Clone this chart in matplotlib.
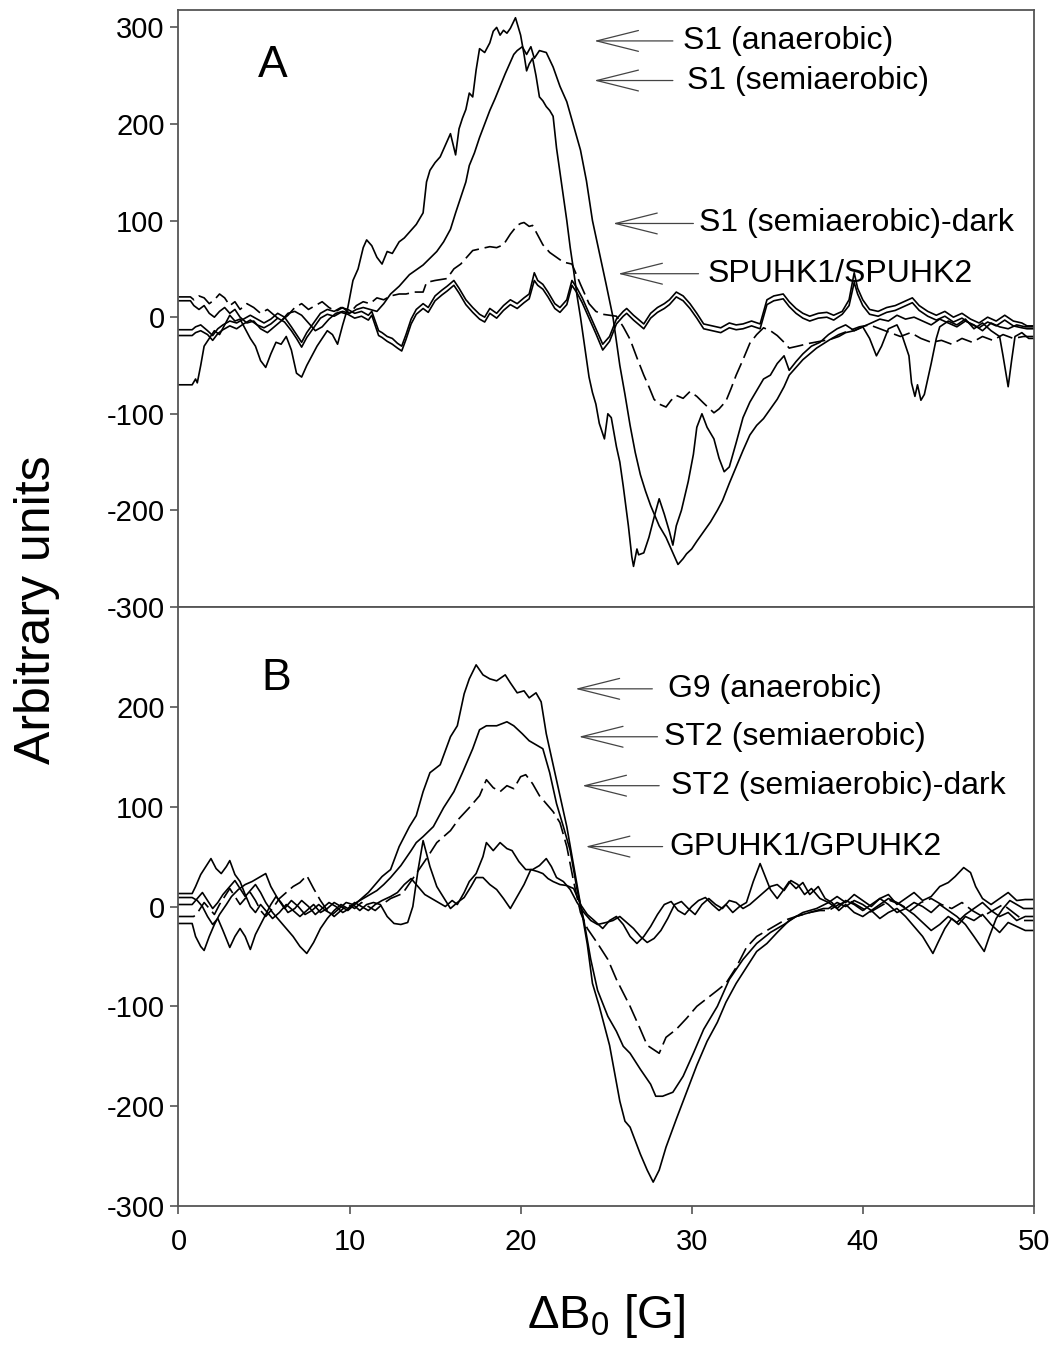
import matplotlib
matplotlib.use("Agg")
import matplotlib.pyplot as plt

plt.rcParams["font.family"] = ["Liberation Sans", "DejaVu Sans"]
plt.rcParams["mathtext.fontset"] = "custom"
plt.rcParams["mathtext.rm"] = "Liberation Sans"
plt.rcParams["mathtext.default"] = "regular"
plt.rcParams["axes.unicode_minus"] = False

# ---- panel A traces, (delta B0 [G], arbitrary units) ----
s1_anaerobic = [
    (0.0, -70), (0.8, -70), (1.0, -64), (1.1, -68), (1.3, -50), (1.5, -30), (1.8, -22), (2.1, -14),
    (2.4, -18), (2.7, -8), (3.0, 2), (3.3, -4), (3.6, -2), (3.9, -12), (4.2, -22), (4.5, -30),
    (4.8, -45), (5.1, -52), (5.4, -38), (5.7, -26), (6.0, -28), (6.3, -20), (6.6, -34), (6.9, -58),
    (7.2, -62), (7.5, -50), (7.8, -40), (8.1, -30), (8.4, -22), (8.7, -14), (9.0, -18), (9.3, -28),
    (9.6, -8), (9.9, 10), (10.2, 38), (10.5, 50), (10.8, 72), (11.0, 80), (11.3, 74), (11.6, 62),
    (11.9, 55), (12.2, 68), (12.5, 66), (12.9, 78), (13.2, 82), (13.5, 88), (13.9, 96), (14.3, 108),
    (14.5, 140), (14.7, 152), (15.0, 160), (15.3, 166), (15.6, 178), (15.9, 190), (16.2, 168),
    (16.4, 195), (16.6, 206), (16.8, 215), (17.0, 232), (17.2, 228), (17.4, 256), (17.6, 278),
    (17.9, 274), (18.2, 284), (18.4, 296), (18.6, 300), (18.8, 292), (19.0, 297), (19.2, 294),
    (19.4, 299), (19.7, 310), (20.0, 292), (20.2, 272), (20.35, 255), (20.5, 262), (20.7, 268),
    (20.9, 250), (21.1, 228), (21.3, 224), (21.5, 218), (21.7, 214), (21.9, 208), (22.1, 175),
    (22.3, 150), (22.5, 125), (22.7, 100), (22.9, 72), (23.1, 48), (23.3, 22), (23.5, 0),
    (23.7, -25), (24.0, -62), (24.2, -78), (24.4, -90), (24.6, -110), (24.9, -126), (25.1, -100),
    (25.3, -104), (25.6, -134), (25.8, -150), (26.0, -175), (26.3, -216), (26.5, -248), (26.6, -258),
    (26.8, -240), (26.9, -246), (27.2, -244), (27.5, -228), (27.85, -204), (28.1, -188), (28.4, -204),
    (28.7, -222), (28.9, -236), (29.1, -216), (29.4, -200), (29.8, -170), (30.1, -142), (30.3, -114),
    (30.6, -100), (30.9, -114), (31.3, -126), (31.6, -146), (31.9, -160), (32.2, -155), (32.6, -130),
    (33.0, -104), (33.4, -88), (33.8, -76), (34.2, -64), (34.6, -60), (35.0, -48), (35.4, -40),
    (35.7, -55), (36.1, -46), (36.5, -38), (37.0, -30), (37.5, -26), (38.0, -18), (38.5, -12),
    (39.0, -8), (39.5, -14), (40.0, -10), (40.4, -22), (40.8, -40), (41.1, -30), (41.5, -12),
    (42.0, -8), (42.3, -19), (42.7, -40), (42.85, -68), (43.05, -82), (43.2, -70), (43.4, -86),
    (43.6, -80), (43.8, -64), (44.0, -48), (44.3, -22), (44.5, -10), (45.0, -4), (45.5, -8),
    (46.0, -2), (46.5, -12), (47.0, -6), (47.5, -14), (48.0, -20), (48.2, -40), (48.5, -72),
    (48.7, -45), (48.9, -20), (49.3, -16), (49.7, -22), (50.0, -22),
]

s1_semiaerobic = [
    (0.0, 17), (0.7, 17), (0.9, 12), (1.2, 8), (1.5, 12), (1.8, 4), (2.1, 0), (2.4, 6), (2.7, 10),
    (3.0, 4), (3.3, 8), (3.6, 0), (4.0, -6), (4.4, -4), (4.8, -12), (5.2, -16), (5.6, -10), (6.0, -4),
    (6.4, 4), (6.8, 6), (7.2, 2), (7.6, -6), (8.0, -14), (8.4, -10), (8.8, -2), (9.2, 4), (9.6, 6),
    (10.0, 4), (10.4, 8), (10.8, 10), (11.2, 8), (11.6, 6), (12.0, 14), (12.4, 24), (12.9, 32),
    (13.5, 44), (14.3, 54), (15.1, 68), (15.5, 78), (15.9, 91), (16.2, 108), (16.5, 124), (16.8, 140),
    (17.0, 157), (17.3, 170), (17.6, 186), (17.9, 200), (18.2, 214), (18.5, 226), (18.8, 239),
    (19.1, 252), (19.4, 264), (19.6, 272), (19.8, 276), (20.1, 280), (20.35, 272), (20.6, 280),
    (20.8, 268), (21.1, 276), (21.5, 274), (21.9, 259), (22.3, 239), (22.7, 223), (23.1, 198),
    (23.5, 173), (23.85, 141), (24.2, 100), (24.6, 67), (25.0, 34), (25.4, 0), (25.8, -50),
    (26.1, -80), (26.4, -112), (26.7, -140), (27.0, -163), (27.3, -180), (27.6, -195), (28.1, -216),
    (28.5, -228), (28.7, -236), (29.0, -248), (29.2, -256), (29.5, -250), (29.7, -245), (30.0, -240),
    (30.3, -232), (30.7, -222), (31.1, -212), (31.5, -200), (31.8, -190), (32.2, -172), (32.6, -155),
    (33.0, -138), (33.4, -122), (33.8, -112), (34.2, -105), (34.6, -95), (35.0, -85), (35.4, -72),
    (35.7, -60), (36.1, -52), (36.5, -44), (36.9, -38), (37.3, -32), (38.1, -23), (38.6, -20),
    (39.0, -16), (39.5, -14), (40.0, -10), (40.5, -6), (41.0, -2), (41.5, -4), (42.0, 2), (42.5, -2),
    (43.0, 0), (43.5, -4), (44.0, -8), (44.5, -2), (45.0, -6), (45.5, -10), (46.0, -4), (46.5, -8),
    (47.0, -14), (47.5, -6), (48.0, -10), (48.5, -12), (49.0, -8), (49.5, -10), (50.0, -10),
]

s1_semiaerobic_dark = [
    (0.0, 21), (0.7, 21), (0.9, 18), (1.2, 22), (1.5, 20), (1.8, 14), (2.1, 18), (2.4, 24), (2.7, 20),
    (3.0, 12), (3.3, 16), (3.6, 8), (4.0, 14), (4.4, 10), (4.8, 4), (5.2, 8), (5.6, 2), (6.0, -4),
    (6.4, 2), (6.8, 10), (7.2, 14), (7.6, 8), (8.0, 12), (8.4, 16), (8.8, 10), (9.2, 6), (9.6, 10),
    (10.0, 4), (10.4, 12), (10.8, 16), (11.2, 14), (11.6, 20), (12.0, 18), (12.4, 22), (12.9, 24),
    (13.3, 24), (13.8, 26), (14.3, 26), (14.5, 36), (15.0, 38), (15.7, 40), (16.1, 50), (16.5, 55),
    (16.8, 61), (17.2, 69), (17.7, 71), (18.2, 73), (18.6, 72), (19.0, 75), (19.4, 86), (19.8, 95),
    (20.0, 97), (20.2, 98), (20.5, 94), (20.7, 95), (21.0, 85), (21.3, 75), (21.7, 67), (22.1, 62),
    (22.5, 57), (23.0, 55), (23.5, 34), (24.0, 14), (24.4, 6), (24.8, 3), (25.2, 2), (25.6, 1),
    (26.0, -10), (26.4, -23), (26.8, -42), (27.2, -60), (27.5, -72), (27.8, -85), (28.1, -90),
    (28.5, -93), (28.8, -86), (29.1, -81), (29.5, -84), (29.9, -77), (30.3, -82), (30.7, -89),
    (31.0, -94), (31.3, -99), (31.6, -95), (32.0, -87), (32.3, -74), (32.6, -60), (33.0, -44),
    (33.4, -27), (33.8, -18), (34.2, -11), (34.6, -14), (35.0, -19), (35.4, -26), (35.7, -32),
    (36.2, -30), (36.9, -27), (37.5, -25), (38.1, -23), (38.6, -18), (39.2, -14), (39.8, -10),
    (40.4, -8), (41.0, -12), (41.6, -16), (42.2, -20), (42.8, -16), (43.4, -22), (44.0, -26),
    (44.6, -24), (45.2, -28), (45.8, -22), (46.4, -26), (47.0, -20), (47.6, -24), (48.2, -18),
    (48.8, -22), (49.4, -20), (50.0, -20),
]

spuhk1 = [
    (0.0, -13), (0.8, -13), (1.0, -10), (1.3, -8), (1.7, -14), (2.0, -19), (2.3, -12), (2.6, -8),
    (3.0, -4), (3.4, -6), (3.8, -2), (4.2, 2), (4.6, -2), (5.0, -6), (5.4, -2), (5.8, 4), (6.2, 0),
    (6.6, -10), (6.9, -18), (7.2, -26), (7.5, -16), (7.9, -6), (8.3, 4), (8.7, 8), (9.1, 6), (9.5, 10),
    (9.9, 8), (10.3, 4), (10.7, 6), (11.1, 2), (11.3, 6), (11.7, -14), (11.9, -16), (12.2, -20),
    (12.5, -22), (12.8, -27), (13.05, -30), (13.3, -18), (13.6, -2), (13.9, 8), (14.3, 14), (14.6, 10),
    (15.0, 22), (15.4, 28), (15.7, 32), (16.1, 38), (16.4, 30), (16.8, 18), (17.2, 10), (17.6, 3),
    (17.9, 0), (18.2, 9), (18.6, 4), (19.0, 12), (19.4, 18), (19.8, 14), (20.2, 20), (20.5, 24),
    (20.8, 46), (21.0, 38), (21.3, 34), (21.6, 26), (22.0, 14), (22.3, 10), (22.7, 18), (23.0, 38),
    (23.3, 30), (23.6, 20), (24.0, 4), (24.4, -12), (24.8, -28), (25.2, -20), (25.6, -2), (26.0, 6),
    (26.2, 9), (26.6, 2), (27.0, -4), (27.2, -7), (27.6, 4), (28.0, 10), (28.4, 14), (28.7, 18),
    (29.1, 26), (29.5, 22), (29.9, 14), (30.3, 4), (30.7, -7), (31.2, -9), (31.7, -11), (32.2, -6),
    (32.6, -8), (33.0, -7), (33.5, -4), (34.0, -7), (34.4, 18), (34.8, 22), (35.35, 24), (35.7, 16),
    (36.1, 9), (36.5, 4), (36.9, 1), (37.4, 4), (37.9, 5), (38.3, 2), (38.8, 6), (39.2, 18),
    (39.5, 46), (39.7, 30), (40.0, 18), (40.4, 8), (40.9, 6), (41.4, 10), (41.9, 12), (42.4, 16),
    (42.9, 20), (43.3, 12), (43.8, 6), (44.3, 2), (44.8, 6), (45.3, 0), (45.8, 4), (46.3, -2),
    (46.8, -6), (47.3, 0), (47.8, -4), (48.3, 2), (48.8, -4), (49.3, -6), (49.6, -9), (50.0, -9),
]

spuhk2 = [
    (0.0, -19), (0.8, -19), (1.0, -16), (1.3, -14), (1.7, -18), (2.0, -24), (2.3, -17), (2.6, -13),
    (3.0, -9), (3.4, -12), (3.8, -7), (4.2, -3), (4.6, -8), (5.0, -11), (5.4, -7), (5.8, -1), (6.2, -5),
    (6.6, -14), (6.9, -22), (7.2, -31), (7.5, -21), (7.9, -11), (8.3, -1), (8.7, 3), (9.1, 1), (9.5, 5),
    (9.9, 3), (10.3, -1), (10.7, 1), (11.1, -3), (11.3, 2), (11.7, -19), (11.9, -21), (12.2, -25),
    (12.5, -28), (12.8, -32), (13.05, -35), (13.3, -23), (13.6, -7), (13.9, 3), (14.3, 9), (14.6, 5),
    (15.0, 17), (15.4, 23), (15.7, 27), (16.1, 33), (16.4, 25), (16.8, 13), (17.2, 5), (17.6, -2),
    (17.9, -5), (18.2, 4), (18.6, -1), (19.0, 7), (19.4, 13), (19.8, 9), (20.2, 15), (20.5, 19),
    (20.8, 38), (21.0, 33), (21.3, 29), (21.6, 21), (22.0, 9), (22.3, 5), (22.7, 13), (23.0, 33),
    (23.3, 25), (23.6, 15), (24.0, -1), (24.4, -17), (24.8, -34), (25.2, -25), (25.6, -7), (26.0, 1),
    (26.2, 4), (26.6, -3), (27.0, -9), (27.2, -12), (27.6, -1), (28.0, 5), (28.4, 9), (28.7, 13),
    (29.1, 21), (29.5, 17), (29.9, 9), (30.3, -1), (30.7, -12), (31.2, -14), (31.7, -16), (32.2, -11),
    (32.6, -13), (33.0, -12), (33.5, -9), (34.0, -12), (34.4, 13), (34.8, 17), (35.35, 19), (35.7, 11),
    (36.1, 4), (36.5, -1), (36.9, -4), (37.4, -1), (37.9, 0), (38.3, -3), (38.8, 3), (39.2, 12),
    (39.5, 36), (39.7, 24), (40.0, 12), (40.4, 3), (40.9, 1), (41.4, 5), (41.9, 7), (42.4, 11),
    (42.9, 15), (43.3, 7), (43.8, 1), (44.3, -3), (44.8, 1), (45.3, -5), (45.8, -1), (46.3, -7),
    (46.8, -11), (47.3, -5), (47.8, -9), (48.3, -3), (48.8, -9), (49.3, -11), (49.6, -12), (50.0, -12),
]

# ---- panel B traces ----
g9_anaerobic = [
    (0.0, 13), (0.8, 13), (1.0, 20), (1.3, 32), (1.6, 40), (1.9, 48), (2.2, 38), (2.5, 33), (2.8, 40),
    (3.0, 46), (3.3, 32), (3.6, 25), (3.9, 12), (4.2, 0), (4.5, -6), (4.8, 2), (5.1, -4), (5.5, -12),
    (5.9, -6), (6.3, 2), (6.7, -4), (7.1, -10), (7.5, -4), (7.9, 2), (8.3, -6), (8.7, -2), (9.1, 4),
    (9.5, 0), (9.9, -4), (10.3, 2), (10.7, 8), (11.1, 14), (11.5, 22), (11.9, 30), (12.4, 37),
    (12.9, 60), (13.5, 80), (13.9, 91), (14.3, 115), (14.7, 134), (15.3, 142), (15.9, 170),
    (16.3, 181), (16.7, 213), (17.0, 228), (17.4, 242), (17.8, 232), (18.2, 228), (18.6, 226),
    (19.1, 232), (19.4, 224), (19.8, 214), (20.2, 216), (20.5, 209), (20.9, 214), (21.2, 205),
    (21.5, 173), (21.9, 142), (22.3, 111), (22.7, 80), (23.1, 41), (23.5, 2), (23.9, -38),
    (24.2, -77), (24.6, -100), (25.2, -139), (25.8, -195), (26.1, -215), (26.4, -221), (27.0, -248),
    (27.4, -264), (27.75, -276), (28.1, -264), (28.5, -241), (29.1, -213), (29.7, -186), (30.3, -159),
    (30.9, -135), (31.5, -116), (32.0, -96), (32.6, -77), (33.2, -61), (33.8, -45), (34.4, -37),
    (35.0, -26), (35.7, -14), (36.5, -6), (37.3, -2), (38.0, 4), (38.5, -2), (39.0, 6), (39.5, 2),
    (40.0, -4), (40.5, 2), (41.0, 8), (41.5, 2), (42.0, -6), (42.5, -2), (43.0, 4), (43.5, 0),
    (44.0, -6), (44.5, 2), (45.0, -4), (45.5, -10), (46.0, -18), (46.5, -30), (47.1, -45), (47.4, -30),
    (47.8, -12), (48.2, -2), (48.6, 6), (49.0, 2), (49.4, -2), (49.7, -2), (50.0, -2),
]

st2_semiaerobic = [
    (0.0, 9), (0.8, 9), (1.1, 6), (1.4, 0), (1.7, -10), (2.0, -18), (2.3, -12), (2.6, -24), (3.0, -41),
    (3.3, -30), (3.6, -22), (3.9, -30), (4.2, -43), (4.5, -28), (4.8, -18), (5.1, -8), (5.4, 2),
    (5.7, 10), (6.0, 4), (6.4, -6), (6.8, -2), (7.2, 6), (7.6, 0), (8.0, -8), (8.4, -2), (8.8, 4),
    (9.2, 0), (9.6, -6), (10.0, -2), (10.4, 4), (10.8, 8), (11.2, 12), (11.6, 16), (12.0, 22),
    (12.4, 29), (13.0, 41), (13.6, 56), (13.9, 64), (14.3, 70), (14.9, 80), (15.5, 99), (16.1, 115),
    (16.6, 134), (17.2, 158), (17.6, 177), (18.0, 181), (18.6, 181), (19.2, 185), (19.6, 181),
    (20.1, 173), (20.5, 166), (20.9, 162), (21.3, 158), (21.7, 134), (22.1, 103), (22.5, 80),
    (22.9, 56), (23.3, 17), (23.7, -14), (24.1, -53), (24.5, -84), (25.1, -110), (25.6, -125),
    (26.0, -140), (26.4, -147), (27.0, -163), (27.6, -178), (27.9, -190), (28.3, -190), (28.9, -186),
    (29.5, -170), (30.1, -147), (30.7, -123), (31.5, -100), (32.2, -73), (33.0, -53), (33.8, -37),
    (34.6, -26), (35.4, -18), (36.1, -10), (36.9, -6), (37.7, -2), (38.0, -2), (38.5, 4), (39.0, 0),
    (39.5, 6), (40.0, 2), (40.5, -4), (41.0, 2), (41.5, 8), (42.0, 4), (42.5, -2), (43.0, -8),
    (43.5, -16), (44.0, -24), (44.5, -18), (45.0, -10), (45.5, -16), (46.0, -8), (46.5, -2), (47.0, 4),
    (47.5, -4), (48.0, -10), (48.5, -6), (49.0, -14), (49.5, -10), (50.0, -10),
]

st2_semiaerobic_dark = [
    (0.0, -10), (0.9, -10), (1.2, -4), (1.5, 4), (1.8, -2), (2.1, -8), (2.4, 2), (2.7, 10), (3.0, 18),
    (3.3, 10), (3.6, 2), (3.9, 8), (4.2, 14), (4.5, 6), (4.8, -4), (5.1, -10), (5.5, -2), (5.9, 8),
    (6.3, 14), (6.7, 20), (7.1, 24), (7.5, 31), (7.9, 18), (8.3, 6), (8.7, -4), (9.1, -10), (9.5, -4),
    (9.9, 2), (10.3, -2), (10.7, 4), (11.1, 0), (11.5, -4), (11.9, 2), (12.4, 8), (13.1, 13),
    (13.9, 33), (14.5, 48), (15.1, 64), (15.9, 76), (16.4, 88), (17.0, 99), (17.6, 111), (18.0, 127),
    (18.4, 119), (18.8, 115), (19.2, 121), (19.6, 118), (20.0, 130), (20.3, 132), (20.7, 123),
    (21.1, 111), (21.5, 103), (21.9, 95), (22.3, 84), (22.7, 60), (23.1, 25), (23.5, -6), (23.9, -22),
    (24.5, -37), (25.1, -53), (25.6, -73), (26.4, -100), (27.0, -123), (27.4, -139), (28.1, -147),
    (28.5, -131), (29.1, -123), (29.7, -112), (30.3, -100), (30.9, -92), (31.5, -84), (32.0, -77),
    (32.6, -61), (33.2, -41), (33.8, -30), (34.6, -22), (35.4, -14), (36.1, -10), (36.9, -6),
    (37.5, -4), (38.0, -4), (38.6, 2), (39.2, 6), (39.8, 0), (40.4, -6), (41.0, 0), (41.6, 6),
    (42.2, 2), (42.8, -4), (43.4, 4), (44.0, 8), (44.6, 2), (45.2, -2), (45.8, 4), (46.4, -4),
    (47.0, -10), (47.6, -4), (48.2, 2), (48.8, -6), (49.4, -14), (50.0, -14),
]

gpuhk1 = [
    (0.0, 2), (0.8, 2), (1.1, 8), (1.4, 14), (1.7, 6), (2.0, -2), (2.3, 4), (2.6, 12), (3.0, 20),
    (3.3, 26), (3.6, 18), (3.9, 10), (4.2, 16), (4.5, 22), (4.8, 14), (5.1, 4), (5.5, -6), (5.9, -14),
    (6.3, -22), (6.7, -30), (7.1, -40), (7.5, -47), (7.9, -36), (8.3, -22), (8.7, -12), (9.1, -4),
    (9.5, 2), (9.9, -2), (10.3, 4), (10.7, 0), (11.1, -4), (11.5, 2), (11.9, 6), (12.4, 10),
    (12.8, 14), (13.2, 22), (13.6, 28), (14.0, 20), (14.4, 12), (14.8, 8), (15.2, 4), (15.6, 0),
    (16.0, 6), (16.3, 2), (16.7, 14), (17.0, 25), (17.4, 33), (17.8, 50), (18.0, 64), (18.4, 56),
    (18.8, 64), (19.2, 58), (19.5, 56), (19.9, 45), (20.3, 37), (20.7, 37), (21.1, 41), (21.5, 48),
    (21.8, 40), (22.1, 29), (22.5, 25), (22.9, 17), (23.3, 4), (23.7, -6), (24.1, -14), (24.5, -18),
    (25.0, -16), (25.4, -14), (25.8, -10), (26.2, -16), (26.6, -22), (27.0, -30), (27.4, -36),
    (27.8, -32), (28.2, -24), (28.6, -12), (29.0, 2), (29.4, 5), (29.8, -2), (30.2, -8), (30.6, 2),
    (31.0, 8), (31.4, 2), (31.8, -2), (32.2, 6), (32.6, 4), (33.0, -2), (33.4, 2), (33.8, 8),
    (34.2, 14), (34.6, 20), (35.0, 22), (35.4, 16), (35.8, 26), (36.2, 22), (36.6, 12), (37.0, 18),
    (37.5, 8), (38.0, 4), (38.5, 10), (39.0, 4), (39.5, 12), (40.0, 6), (40.5, 0), (41.0, 8),
    (41.5, 12), (42.0, 2), (42.5, 8), (43.0, 14), (43.5, 6), (44.0, 10), (44.5, 20), (45.0, 24),
    (45.4, 30), (45.9, 39), (46.3, 34), (46.6, 20), (47.0, 8), (47.5, 2), (48.0, 8), (48.5, 14),
    (49.0, 6), (49.5, 7), (50.0, 7),
]

gpuhk2 = [
    (0.0, -17), (0.8, -17), (1.0, -30), (1.3, -40), (1.5, -44), (1.8, -30), (2.1, -18), (2.4, -8),
    (2.8, 2), (3.1, 10), (3.5, 17), (3.9, 22), (4.3, 25), (4.7, 29), (5.1, 33), (5.4, 20), (5.8, 8),
    (6.2, -2), (6.6, 6), (7.0, 0), (7.4, -8), (7.8, -4), (8.2, 2), (8.6, -4), (9.0, -8), (9.4, -2),
    (9.8, 4), (10.2, 2), (10.6, -4), (11.0, 2), (11.4, 4), (11.8, 2), (12.2, -10), (12.6, -17),
    (13.0, -18), (13.4, -16), (13.7, 0), (14.0, 36), (14.3, 66), (14.7, 40), (15.1, 20), (15.5, 9),
    (15.9, -2), (16.3, 4), (16.7, 9), (17.1, 20), (17.4, 29), (17.8, 29), (18.2, 22), (18.6, 17),
    (19.0, 8), (19.4, -2), (19.8, 10), (20.2, 22), (20.6, 37), (21.0, 35), (21.3, 33), (21.6, 28),
    (21.9, 25), (22.3, 22), (22.7, 21), (23.1, 18), (23.5, 2), (23.9, -8), (24.3, -14), (24.8, -22),
    (25.2, -14), (25.6, -10), (26.0, -18), (26.4, -30), (26.8, -37), (27.2, -30), (27.6, -20),
    (28.0, -8), (28.4, 2), (28.8, 5), (29.2, -4), (29.6, -8), (30.0, 0), (30.4, 6), (30.8, 9),
    (31.2, 2), (31.6, -4), (32.0, 2), (32.4, -6), (32.8, 0), (33.2, 4), (33.6, 25), (34.0, 43),
    (34.3, 30), (34.6, 17), (35.0, 8), (35.3, 15), (35.7, 25), (36.1, 18), (36.5, 24), (36.9, 12),
    (37.4, 20), (37.8, 8), (38.2, 4), (38.6, -4), (39.0, 2), (39.5, -6), (40.0, -10), (40.5, -4),
    (41.0, -12), (41.5, -6), (42.0, -2), (42.5, -10), (43.0, -20), (43.5, -30), (44.1, -47),
    (44.4, -36), (44.8, -22), (45.2, -12), (45.6, -18), (46.0, -10), (46.5, -14), (47.0, -8),
    (47.5, -18), (48.0, -26), (48.5, -16), (49.0, -20), (49.5, -24), (50.0, -24),
]

# labels: (text, arrow tip (G, y), arrow tail G, text start G)
labels_a = [
    ("S1 (anaerobic)", (24.3, 286), 28.9, 29.5),
    ("S1 (semiaerobic)", (24.3, 245), 28.9, 29.7),
    ("S1 (semiaerobic)-dark", (25.4, 97), 30.1, 30.4),
    ("SPUHK1/SPUHK2", (25.7, 45), 30.4, 30.9),
]
labels_b = [
    ("G9 (anaerobic)", (23.2, 218), 27.7, 28.6),
    ("ST2 (semiaerobic)", (23.4, 170), 28.0, 28.4),
    ("ST2 (semiaerobic)-dark", (23.6, 121), 28.1, 28.8),
    ("GPUHK1/GPUHK2", (23.8, 60), 28.3, 28.7),
]


def draw_trace(ax, pts, dashed=False):
    xs = [p[0] for p in pts]
    ys = [p[1] for p in pts]
    line, = ax.plot(xs, ys, color="black", lw=1.2)
    if dashed:
        line.set_dashes([10, 3.5])


def draw_labels(ax, labels):
    for text, tip, tail_x, text_x in labels:
        ax.annotate("", xy=tip, xytext=(tail_x, tip[1]),
                    arrowprops=dict(arrowstyle="->,head_length=1.0,head_width=0.25",
                                    lw=0.9, color="#444444", shrinkA=0, shrinkB=0,
                                    mutation_scale=30))
        ax.text(text_x, tip[1], text, fontsize=23, va="center", ha="left")


def style_axis(ax):
    for sp in ax.spines.values():
        sp.set_color("#555555")
        sp.set_linewidth(1.3)
    ax.tick_params(axis="both", direction="out", length=6, width=1.2, color="#555555",
                   labelsize=21, pad=4)
    ax.set_xlim(0, 50)


fig = plt.figure(figsize=(10.56, 13.53), dpi=100)
ax_a = fig.add_axes([0.169, 0.5514, 0.810, 0.4412])
ax_b = fig.add_axes([0.169, 0.1086, 0.810, 0.4428])

for pts in [spuhk1, spuhk2, s1_semiaerobic, s1_anaerobic]:
    draw_trace(ax_a, pts)
draw_trace(ax_a, s1_semiaerobic_dark, dashed=True)

for pts in [gpuhk1, gpuhk2, st2_semiaerobic, g9_anaerobic]:
    draw_trace(ax_b, pts)
draw_trace(ax_b, st2_semiaerobic_dark, dashed=True)

style_axis(ax_a)
ax_a.set_ylim(-300, 318)
ax_a.set_yticks([-300, -200, -100, 0, 100, 200, 300])
ax_a.tick_params(axis="x", bottom=False, labelbottom=False)
ax_a.text(5.5, 261, "A", fontsize=32, ha="center", va="center")
draw_labels(ax_a, labels_a)

style_axis(ax_b)
ax_b.set_ylim(-300, 300)
ax_b.set_yticks([-300, -200, -100, 0, 100, 200])
ax_b.set_xticks([0, 10, 20, 30, 40, 50])
ax_b.tick_params(axis="x", pad=10)
ax_b.text(5.7, 228, "B", fontsize=32, ha="center", va="center")
draw_labels(ax_b, labels_b)

ax_b.set_xlabel("\u0394B$_0$ [G]", fontsize=34, labelpad=26)
fig.text(0.035, 1 - 610 / 1353, "Arbitrary units", rotation=90, fontsize=36,
         ha="center", va="center")

fig.savefig("out.png", dpi=100)
